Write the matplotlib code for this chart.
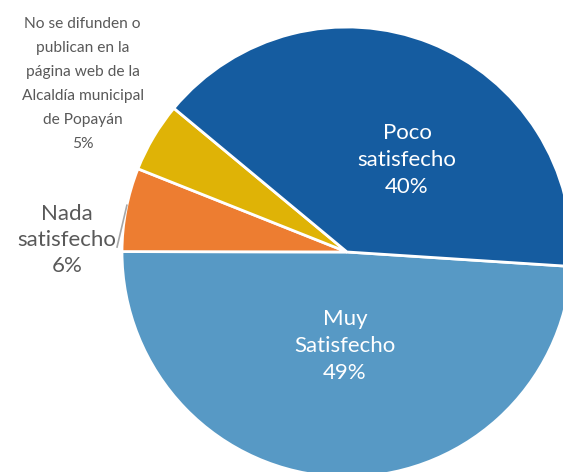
import matplotlib.pyplot as plt
import numpy as np

labels = ['Muy\nSatisfecho', 'Nada\nsatisfecho',
          'No se difunden o\npublican en la\npágina web de la\nAlcaldía municipal\nde Popayán',
          'Poco\nsatisfecho']
values = [49, 6, 5, 40]
colors = ['#5799C5', '#ED7D31', '#DFB306', '#155CA0']

plt.rcParams['font.family'] = ['Lato', 'DejaVu Sans']

fig = plt.figure(figsize=(5.63, 4.72), dpi=100)
ax = fig.add_axes([0, 0, 1, 1])

start = -3.7
wedges, _ = ax.pie(values, colors=colors, startangle=start, counterclock=False,
                   radius=1, wedgeprops=dict(edgecolor='white', linewidth=2))

ax.set_aspect('equal')
ax.set_xlim(-1.542, 0.96)
ax.set_ylim(-0.978, 1.12)
ax.axis('off')

pct = [f'{v}%' for v in values]

# inside labels
ax.text(0.267, 0.41, labels[3] + '\n' + pct[3], color='white', fontsize=16,
        ha='center', va='center', linespacing=1.45)
ax.text(-0.009, -0.418, labels[0] + '\n' + pct[0], color='white', fontsize=16,
        ha='center', va='center', linespacing=1.45)

# outside labels
ax.text(-1.244, 0.053, labels[1] + '\n' + pct[1], color='#595959', fontsize=16,
        ha='center', va='center', linespacing=1.4)
ax.text(-1.175, 0.747, labels[2] + '\n' + pct[2], color='#595959', fontsize=11.2,
        ha='center', va='center', linespacing=1.9)

# leader line for the small orange slice
w = wedges[1]
ang = np.deg2rad(w.theta1 + 0.45 * (w.theta2 - w.theta1))
ax.plot([np.cos(ang), -1.022], [np.sin(ang), 0.022], color='#A6A6A6', lw=1.2)

fig.savefig('out.png', dpi=100)
